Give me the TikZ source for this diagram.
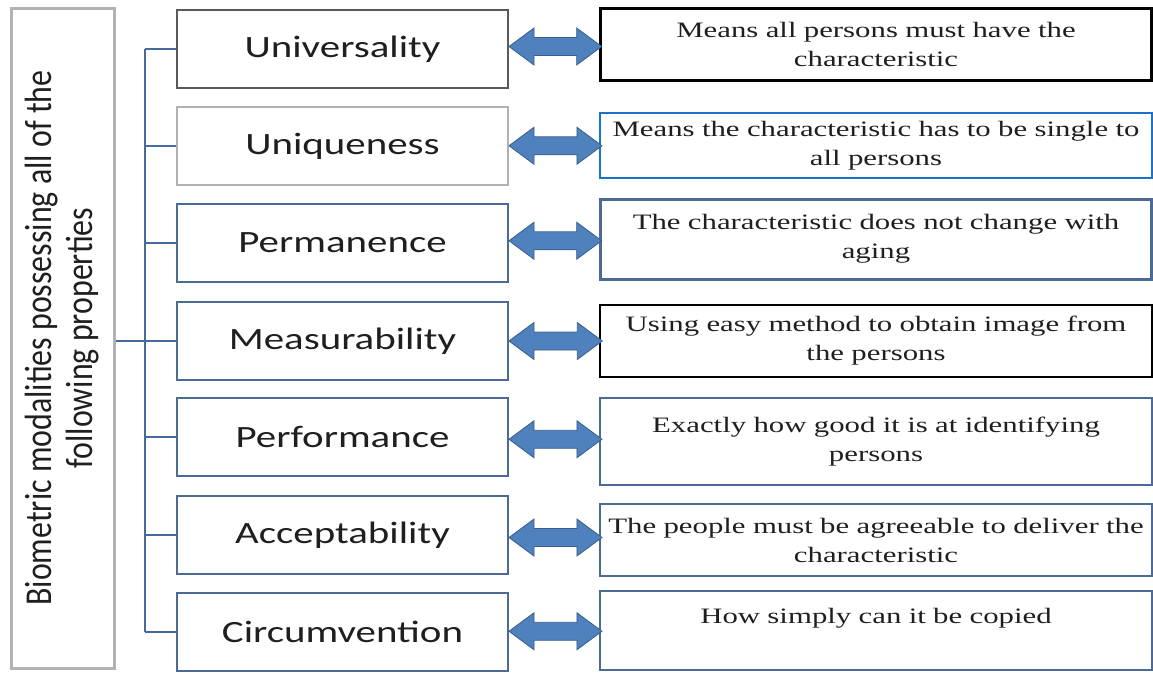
\documentclass[tikz,border=0pt]{standalone}
\usepackage{fontspec}
\usetikzlibrary{calc}
\newfontfamily\propfont[FakeStretch=1.32]{Carlito}
\newfontfamily\sidefont[FakeStretch=0.84]{Carlito}
\newfontfamily\descfont[FakeStretch=1.4]{Liberation Serif}
\definecolor{bgray}{RGB}{76,106,150}
\definecolor{lnblue}{RGB}{70,105,160}
\definecolor{arrfill}{RGB}{79,129,189}
\definecolor{arrline}{RGB}{56,93,138}
\definecolor{brblue}{RGB}{25,115,200}
\begin{document}
\begin{tikzpicture}[x=1pt, y=-1pt, line join=miter,
propbox/.style={draw=bgray, line width=2pt, minimum width=331pt, minimum height=78pt, text=black!88, font=\propfont\fontsize{31}{36}\selectfont},
descbox/.style={draw=bgray, line width=2.5pt, minimum width=548pt, text width=545pt, align=center, text=black!88, font=\descfont\fontsize{22}{29}\selectfont},
dblarr/.style={fill=arrfill, draw=arrline, line width=0.8pt},
link/.style={draw=lnblue, line width=2pt}]
\useasboundingbox (0,0) rectangle (1153,673);
% left box
\node[draw=black!30, line width=3pt, rotate=90, minimum width=660pt, minimum height=103pt, align=center, text=black!88, font=\sidefont\fontsize{38}{41}\selectfont] (bio) at (62.5,338) {Biometric modalities possessing all of the\\ following properties};
% properties
\node[propbox, draw=black!65] (p1) at (342.5,49) {Universality};
\node[propbox, draw=black!30] (p2) at (342.5,146) {Uniqueness};
\node[propbox] (p3) at (342.5,242.5) {Permanence};
\node[propbox] (p4) at (342.5,341) {Measurability};
\node[propbox] (p5) at (342.5,437) {Performance};
\node[propbox] (p6) at (342.5,535) {Acceptability};
\node[propbox] (p7) at (342.5,632) {Circumvention};
% descriptions
\node[descbox, draw=black, line width=3pt, minimum height=72pt] (d1) at (876,44) {Means all persons must have the\\ characteristic};
\node[descbox, draw=brblue, minimum height=65pt] (d2) at (876,145.5) {Means the characteristic has to be single to\\ all persons};
\node[descbox, line width=3pt, minimum height=80pt] (d3) at (876,239) {The characteristic does not change with\\ aging};
\node[descbox, draw=black, line width=1.8pt, minimum height=72pt] (d4) at (876,341) {Using easy method to obtain image from\\ the persons};
\node[descbox, minimum height=87pt] (d5) at (876,441.5) {Exactly how good it is at identifying\\ persons};
\node[descbox, minimum height=72pt] (d6) at (876,540) {The people must be agreeable to deliver the\\ characteristic};
\node[descbox, minimum height=79pt] (d7) at (876,630.5) {How simply can it be copied\\ \mbox{}};
% bracket
\coordinate (sp) at (145,0);
\draw[link] (p1.west -| sp) -- (p7.west -| sp);
\draw[link] (bio.south |- p4.west) -- (p4.west);
\foreach \i in {1,...,7} \draw[link] (p\i.west -| sp) -- (p\i.west);
% double arrows
\foreach \i in {1,...,7}{
\coordinate (m) at ($(p\i.east)!0.5!(d\i.west)$);
\coordinate (l) at (p\i.east |- m);
\coordinate (r) at ($(d\i.west |- m)+(3,0)$);
\draw[dblarr] (l) -- ($(l)+(25,-18.5)$) -- ($(l)+(25,-9)$) -- ($(r)+(-25,-9)$) -- ($(r)+(-25,-18.5)$) -- (r)
  -- ($(r)+(-25,18.5)$) -- ($(r)+(-25,9)$) -- ($(l)+(25,9)$) -- ($(l)+(25,18.5)$) -- cycle;
}
\end{tikzpicture}
\end{document}
